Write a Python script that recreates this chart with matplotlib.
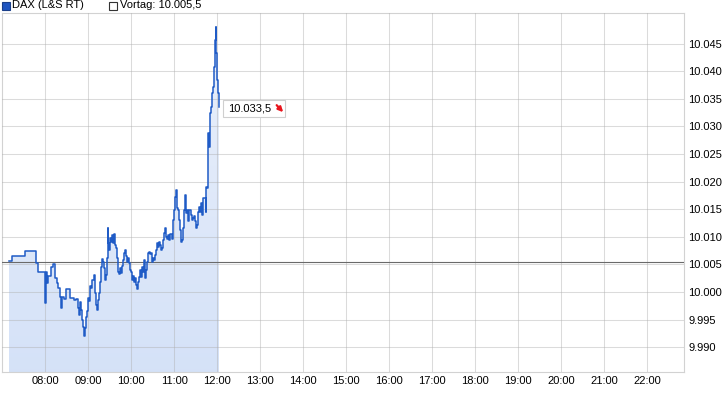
import numpy as np
import matplotlib.pyplot as plt
from matplotlib.patches import Rectangle, FancyArrowPatch

# DAX (L&S RT) intraday, time in minutes after midnight, price in points
minutes = [429.2, 433.0, 451.5, 466.9, 470.1, 479.9, 480.4, 482.2, 483.6, 487.4,
           490.6, 493.4, 496.2, 498.0, 500.4, 502.2, 503.2, 506.0, 508.7, 512.0,
           514.3, 517.1, 519.9, 522.7, 525.5, 526.9, 528.3, 529.7, 531.1, 532.5,
           533.9, 535.3, 536.7, 538.0, 539.4, 540.8, 542.2, 543.6, 545.0, 547.8,
           549.2, 550.6, 551.6, 553.4, 554.8, 556.2, 557.6, 559.0, 560.4, 561.8,
           563.2, 564.6, 566.0, 566.9, 567.3, 568.7, 570.1, 571.5, 572.9, 574.3,
           576.1, 577.1, 578.5, 579.9, 581.7, 582.7, 584.1, 585.5, 586.9, 588.3,
           589.7, 591.1, 592.5, 593.9, 595.3, 596.6, 598.0, 599.4, 600.8, 602.2,
           603.6, 605.0, 606.4, 607.8, 609.2, 610.6, 612.0, 613.4, 614.8, 616.2,
           617.6, 619.0, 620.4, 621.8, 623.2, 624.6, 626.0, 627.3, 628.7, 630.1,
           631.5, 632.9, 634.3, 635.7, 637.1, 638.5, 639.9, 641.3, 642.7, 644.1,
           645.5, 646.9, 648.3, 649.7, 651.1, 652.5, 653.9, 656.2, 657.1, 658.5,
           659.9, 660.8, 662.2, 663.2, 664.6, 666.4, 667.8, 669.2, 670.2, 671.6,
           673.0, 674.8, 675.8, 677.2, 678.6, 679.4, 680.8, 682.7, 684.1, 685.5,
           687.3, 688.7, 689.7, 691.1, 692.5, 693.3, 694.7, 695.7, 697.1, 698.1,
           700.3, 702.7, 703.7, 704.5, 705.9, 706.5, 707.3, 708.3, 709.7, 711.1,
           712.0, 712.9, 714.3, 715.2, 716.6, 717.6, 718.0, 719.0, 719.8, 720.4,
           721.8, 722.6]
price = [10005.6, 10006.6, 10007.5, 10005.3, 10003.6, 9998.0, 10003.6, 10001.6, 10002.9, 10004.6,
         10005.1, 10002.6, 10001.6, 10000.7, 9999.1, 9997.1, 9999.1, 9998.8, 10000.6, 10000.6,
         9998.9, 9999.0, 9998.6, 9998.8, 9997.1, 9995.9, 9998.2, 9996.8, 9995.0, 9993.7,
         9992.0, 9993.5, 9995.5, 9996.6, 9998.9, 9998.4, 10001.1, 10000.7, 10002.2, 10003.1,
         9999.8, 9997.7, 9996.8, 9998.6, 9999.9, 10001.9, 10004.6, 10006.0, 10005.5, 10004.4,
         10002.2, 10003.1, 10006.2, 10011.6, 10008.9, 10007.6, 10009.8, 10009.1, 10010.3, 10008.9,
         10010.5, 10008.5, 10008.0, 10006.2, 10003.7, 10003.3, 10004.4, 10003.4, 10004.7, 10005.8,
         10007.1, 10007.6, 10006.5, 10005.5, 10006.2, 10005.3, 10004.0, 10003.7, 10002.2, 10002.9,
         10001.9, 10002.6, 10001.3, 10000.5, 10001.9, 10002.7, 10004.0, 10002.8, 10004.6, 10003.7,
         10005.8, 10002.5, 10004.0, 10005.5, 10007.0, 10007.3, 10006.9, 10007.0, 10005.5, 10006.1,
         10005.8, 10006.7, 10007.6, 10008.9, 10008.2, 10009.1, 10008.5, 10007.6, 10007.9, 10009.4,
         10010.7, 10011.6, 10010.0, 10009.7, 10010.3, 10009.4, 10010.5, 10010.3, 10009.6, 10013.1,
         10014.9, 10017.3, 10018.5, 10015.2, 10014.9, 10013.1, 10011.3, 10009.1, 10009.4, 10011.6,
         10014.9, 10017.6, 10014.3, 10014.9, 10014.0, 10012.8, 10014.9, 10014.0, 10013.1, 10013.4,
         10013.7, 10012.8, 10011.6, 10012.2, 10013.7, 10014.6, 10015.5, 10014.6, 10016.1, 10014.0,
         10017.0, 10017.0, 10014.6, 10019.1, 10018.8, 10026.3, 10028.8, 10026.3, 10032.4, 10033.6,
         10034.8, 10036.0, 10037.2, 10040.8, 10045.7, 10048.1, 10043.3, 10041.4, 10038.4, 10036.0,
         10034.2, 10033.5]
vortag = 10005.5
last_label = "10.033,5"
hour_ticks = list(range(8, 23))
value_ticks = list(range(9990, 10046, 5))

W, H = 726, 405
fig = plt.figure(figsize=(W / 100, H / 100), dpi=100)
plt.rcParams['font.family'] = ['Liberation Sans', 'DejaVu Sans']

ax = fig.add_axes([2.3 / W, 1 - 371.7 / H, 682.0 / W, 358.7 / H])
ymin, ymax = 9985.58, 10050.56
xmin, xmax = 7.0, 22.86

t = np.array(minutes) / 60.0
p = np.array(price)

# gradient fill under the curve
poly = ax.fill_between(t, p, ymin - 5, step='post', facecolor='none', edgecolor='none')
n = 256
bot = np.array([0.835, 0.886, 0.972])
top = np.array([0.915, 0.940, 0.985])
grad = np.zeros((n, 1, 4))
frac = np.linspace(0, 1, n)[:, None]
grad[:, 0, :3] = bot + (top - bot) * frac
grad[:, 0, 3] = 1.0
im = ax.imshow(grad, extent=[xmin, xmax, ymin, 10049], origin='lower', aspect='auto', zorder=1)
im.set_clip_path(poly.get_paths()[0], ax.transData)

ax.grid(True, color='#b0b0b0', alpha=0.45, lw=0.75, zorder=2)
ax.set_axisbelow(False)
ax.axhline(vortag, color='#6a6a6a', lw=0.8, zorder=3)
ax.plot(t, p, drawstyle='steps-post', color='#1f5bc6', lw=1.1, zorder=4)

ax.set_xlim(xmin, xmax)
ax.set_ylim(ymin, ymax)
ax.set_xticks(hour_ticks)
ax.set_xticklabels(["%02d:00" % h for h in hour_ticks])
ax.set_yticks(value_ticks)
ax.set_yticklabels([("{:,}".format(v)).replace(",", ".") for v in value_ticks])
ax.yaxis.tick_right()
ax.tick_params(length=0, labelsize=8, pad=3)
for s in ax.spines.values():
    s.set_color('#d2d2d2')
    s.set_linewidth(0.8)

# label box for the last price, placed in pixels next to the last point
lx, ly = ax.transData.transform((t[-1], p[-1]))
fig.patches.append(Rectangle((lx + 3.5, ly - 9.5), 62, 16.5, transform=None,
                             fc='white', ec='#cfcfcf', lw=0.8, zorder=6))
fig.text(lx + 9, ly - 1.2, last_label, fontsize=8, ha='left', va='center',
         transform=None, zorder=7)
fig.patches.append(FancyArrowPatch((lx + 57.5, ly + 2), (lx + 64, ly - 5), transform=None,
                                   arrowstyle='-|>', mutation_scale=7, color='#e8141c',
                                   lw=1.6, shrinkA=0, shrinkB=0, zorder=8))

# legend row
def fx(x):
    return x / W

def fy(y):
    return 1 - y / H

fig.patches.append(Rectangle((fx(1.5), fy(9.5)), 8 / W, 8 / H, transform=fig.transFigure,
                             fc='#1f55c0', ec='#1a3f8a', lw=0.8))
fig.text(fx(12.5), fy(5.5), "DAX (L&S RT)", fontsize=8, va='center', ha='left')
fig.patches.append(Rectangle((fx(108.5), fy(9.5)), 8 / W, 8 / H, transform=fig.transFigure,
                             fc='white', ec='#333333', lw=0.8))
fig.text(fx(120), fy(5.5), "Vortag: 10.005,5", fontsize=8, va='center', ha='left')

fig.savefig('out.png', dpi=100)
